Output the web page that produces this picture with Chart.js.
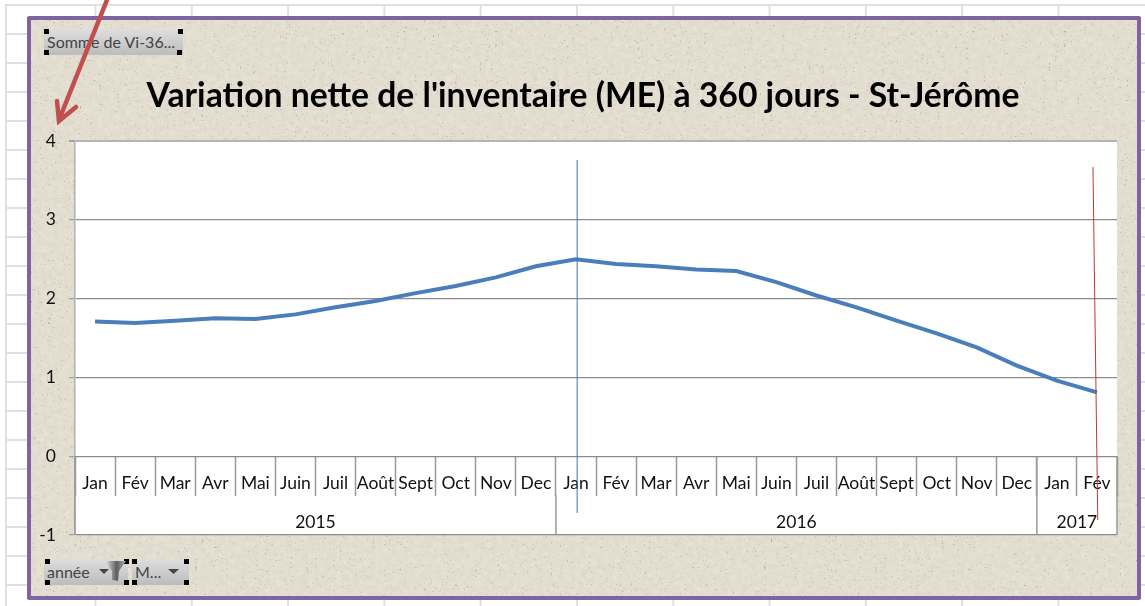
<!DOCTYPE html>
<html lang="fr"><head><meta charset="utf-8">
<script src="https://cdn.jsdelivr.net/npm/chart.js@4"></script>
<style>
html,body{margin:0;padding:0;background:#fff;width:1145px;height:606px;overflow:hidden}
#sheet{position:absolute;left:5px;top:4px;width:1140px;height:602px;box-sizing:border-box;
 border-left:2px solid #e0e0e0;border-top:2px solid #e0e0e0;
 background-image:linear-gradient(90deg,#e0e0e0 2px,transparent 2px),linear-gradient(#e0e0e0 2px,transparent 2px);
 background-size:96.3px 29px;background-position:87.5px 27px}
#panel{position:absolute;left:27px;top:16px;width:1114px;height:584px;box-sizing:border-box;border:4px solid #8064a2;border-radius:2px;background:#e1dbcd;overflow:hidden}
#panel svg{position:absolute;left:0;top:0}
canvas{position:absolute;left:0;top:0}
.btn{position:absolute;box-sizing:border-box;height:26px;background:linear-gradient(#dedede,#bcbcbc);border-radius:2px;font:16px Lato,"Open Sans",sans-serif;color:#444;line-height:26px;padding-left:3px;white-space:nowrap}
.h{position:absolute;width:5px;height:5px;background:#000}
#overlay{position:absolute;left:0;top:0;pointer-events:none}
</style></head><body>
<div id="sheet"></div>
<div id="panel"><svg width="1106" height="576"><filter id="n" x="0" y="0" width="100%" height="100%">
<feTurbulence type="fractalNoise" baseFrequency="0.45" numOctaves="2" seed="7"/>
<feColorMatrix type="matrix" values="0 0 0 0 0.38  0 0 0 0 0.34  0 0 0 0 0.26  2.4 2.4 0 0 -2.95"/></filter>
<filter id="l" x="0" y="0" width="100%" height="100%">
<feTurbulence type="fractalNoise" baseFrequency="0.18" numOctaves="3" seed="3"/>
<feColorMatrix type="matrix" values="0 0 0 0 0.96  0 0 0 0 0.94  0 0 0 0 0.89  0.5 0 0 0 -0.16"/></filter>
<rect width="1106" height="576" filter="url(#l)"/><rect width="1106" height="576" filter="url(#n)"/></svg></div>
<canvas id="c" width="1145" height="606"></canvas>
<div class="btn" style="left:44px;top:29px;width:139px">Somme de Vi-36...</div>
<div class="btn" style="left:44px;top:559px;width:84px">année</div>
<div class="btn" style="left:132px;top:559px;width:57px">M...</div>
<i class="h" style="left:44px;top:29px"></i><i class="h" style="left:178px;top:29px"></i><i class="h" style="left:44px;top:50px"></i><i class="h" style="left:177px;top:50px"></i>
<i class="h" style="left:45px;top:559px"></i><i class="h" style="left:124px;top:559px"></i><i class="h" style="left:45px;top:580px"></i><i class="h" style="left:124px;top:580px"></i>
<i class="h" style="left:132px;top:559px"></i><i class="h" style="left:184px;top:559px"></i><i class="h" style="left:132px;top:580px"></i><i class="h" style="left:184px;top:580px"></i>
<svg id="overlay" width="1145" height="606">
<polygon points="99,569 109,569 104,574" fill="#444"/><polygon points="168,569 179,569 173.5,574" fill="#444"/>
<defs><linearGradient id="f" x1="0" x2="1"><stop offset="0" stop-color="#e8e8e8"/><stop offset=".55" stop-color="#5e5e5e"/><stop offset="1" stop-color="#b0b0b0"/></linearGradient></defs>
<polygon points="105,561 126,561 119,571 118,581 112,580 112,571" fill="url(#f)"/>
<g stroke="#c0504d" stroke-width="4.5" fill="none" stroke-linecap="round"><line x1="107" y1="0" x2="59" y2="120"/><polyline points="57,101 59,121 76,107"/></g>
</svg>
<script>
const categories=["Jan","Fév","Mar","Avr","Mai","Juin","Juil","Août","Sept","Oct","Nov","Dec","Jan","Fév","Mar","Avr","Mai","Juin","Juil","Août","Sept","Oct","Nov","Dec","Jan","Fév"];
const values=[1.71,1.69,1.72,1.75,1.74,1.80,1.89,1.97,2.07,2.16,2.27,2.41,2.50,2.44,2.41,2.37,2.35,2.21,2.04,1.89,1.72,1.56,1.38,1.15,0.96,0.81];
const years=["2015","2016","2017"];
const yearStartIndex=[0,12,24];
const blueGuideX=[12.03,12.03], blueGuideY=[3.76,-0.72];
const redGuideX=[24.9,25.02], redGuideY=[3.67,-0.81];
const FONT='Lato,"Open Sans",sans-serif';

const decor={id:'decor',
 beforeDraw(ch){ch.scales.y.left=0;const a=ch.chartArea,c=ch.ctx;c.save();c.fillStyle='#fff';c.fillRect(a.left,a.top,a.width,a.height);c.restore();},
 afterDraw(ch){const c=ch.ctx,x=ch.scales.x,y=ch.scales.y,n=categories.length;
  const edge=i=>x.getPixelForValue(i-0.5);
  c.save();c.strokeStyle='#9a9a9a';c.lineWidth=1.5;c.font='17.5px '+FONT;c.fillStyle='#111';c.textAlign='center';c.textBaseline='middle';
  const y0=y.getPixelForValue(0),yb=y.getPixelForValue(-1);
  yearStartIndex.forEach((s,i)=>{const e=i+1<years.length?yearStartIndex[i+1]:n;
   const top=i===1?y0+39:y0;
   c.beginPath();c.moveTo(edge(s),top);c.lineTo(edge(s),yb);c.stroke();
   c.fillText(years[i],(edge(s)+edge(e))/2,(y0+yb)/2+27);});
  c.beginPath();c.moveTo(edge(n),y0);c.lineTo(edge(n),yb);c.stroke();
  const g=(xs,ys,col)=>{c.strokeStyle=col;c.lineWidth=1;c.beginPath();c.moveTo(x.getPixelForValue(xs[0]),y.getPixelForValue(ys[0]));c.lineTo(x.getPixelForValue(xs[1]),y.getPixelForValue(ys[1]));c.stroke();};
  g(blueGuideX,blueGuideY,'#3f74b5');g(redGuideX,redGuideY,'#c0392f');
  c.restore();}};

new Chart(document.getElementById('c'),{type:'line',plugins:[decor],
 data:{labels:categories,datasets:[{data:values,borderColor:'#4a7ebb',borderWidth:4,pointRadius:0,tension:0,fill:false,borderCapStyle:'butt'}]},
 options:{responsive:false,animation:false,
  layout:{padding:{left:49,right:28,top:0,bottom:71}},
  plugins:{legend:{display:false},tooltip:{enabled:false},
   title:{display:true,text:"Variation nette de l'inventaire (ME) à 360 jours - St-Jérôme",color:'#000',
    font:{family:FONT,size:33.7,weight:'bold',lineHeight:1.2},padding:{top:76,bottom:24.6}}},
  scales:{
   x:{type:'category',position:{y:0},offset:true,
    grid:{display:true,offset:true,drawOnChartArea:false,drawTicks:true,tickLength:39,tickColor:'#9a9a9a',tickWidth:1.5},
    border:{display:true,color:'#8c8c8c',width:1},
    ticks:{autoSkip:false,maxRotation:0,minRotation:0,color:'#111',font:{family:FONT,size:17.5},padding:-22}},
   y:{min:-1,max:4,afterFit(s){s.width=26;},
    grid:{color:c=>c.tick.value===4?'#b4b4b4':'#8c8c8c',lineWidth:c=>c.tick.value===4?2:1.2,tickLength:6,tickColor:'#a0a0a0'},
    border:{display:true,color:'#b0b0b0',width:1.5},
    ticks:{stepSize:1,color:'#111',font:{family:FONT,size:17.5},padding:13}}
  }}});
</script></body></html>
